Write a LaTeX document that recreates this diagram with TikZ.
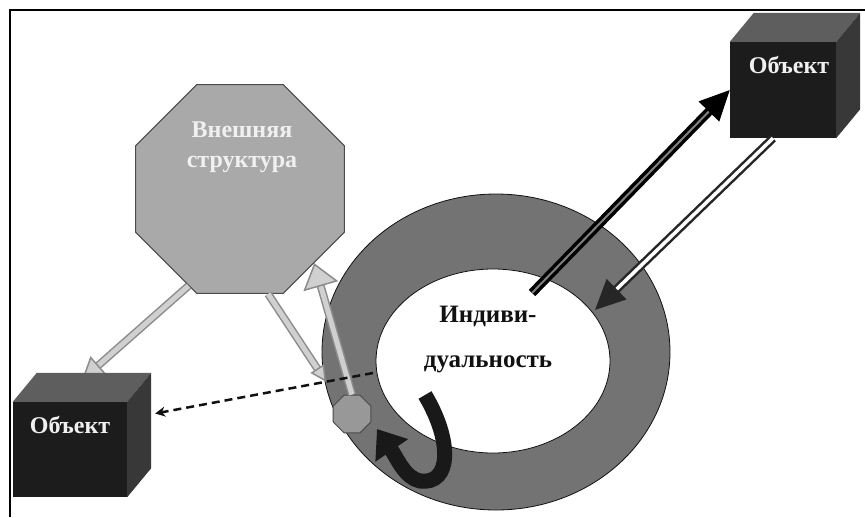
\documentclass[tikz,border=0pt]{standalone}
\usepackage{fontspec}
\setmainfont{Liberation Serif}
\usepackage{tikz}
\usetikzlibrary{positioning,arrows.meta,shapes.geometric,calc}
\definecolor{cInk}{HTML}{111111}
\definecolor{cCube}{HTML}{1C1C1C}
\definecolor{cCubeTop}{HTML}{5E5E5E}
\definecolor{cCubeSide}{HTML}{383838}
\definecolor{cRing}{HTML}{737373}
\definecolor{cOct}{HTML}{A9A9A9}
\definecolor{cOctEdge}{HTML}{4A4A4A}
\definecolor{cLight}{HTML}{F0F0F0}
\definecolor{cGreyL}{HTML}{D0D0D0}
\definecolor{cGreyD}{HTML}{8C8C8C}
\newcommand{\cubefaces}[1]{%
  \fill[cCubeTop] (#1.north west) -- ++(24,-29) -- ([shift={(24,-29)}]#1.north east) -- (#1.north east) -- cycle;
  \fill[cCubeSide] (#1.north east) -- ++(24,-29) -- ([shift={(24,-29)}]#1.south east) -- (#1.south east) -- cycle;}
\tikzset{
  cube/.style={fill=cCube, inner sep=0pt},
  lbl/.style={text=cLight, inner sep=0pt, font=\fontsize{24}{26}\bfseries\selectfont},
  octo/.style={regular polygon, regular polygon sides=8, draw=cOctEdge, line width=1pt,
               fill=cOct, inner sep=0pt},
  ell/.style={ellipse, draw=cInk, line width=0.8pt, inner sep=0pt},
  arDark/.style={draw=black, line width=3.5pt, double=gray, double distance=2pt,
                 -{Triangle[length=30pt,width=28pt]}},
  arDbl/.style={draw=black!85, line width=2.5pt, double=white, double distance=3.5pt,
                -{Triangle[length=30pt,width=28pt]}},
  arGrey/.style={draw=cGreyD, line width=1.5pt, double=cGreyL, double distance=5pt,
                 -{Triangle[length=22pt,width=24pt,fill=cGreyL]}},
  arDash/.style={draw=cInk, line width=2.5pt, dash pattern=on 8pt off 5pt,
                 -{Stealth[length=10pt,width=10pt]}},
  arBend/.style={draw=black!90, line width=15pt, -{Triangle[length=26pt,width=38pt]}}
}
\begin{document}
\begin{tikzpicture}[x=1pt,y=-1pt]
\useasboundingbox (0,0) rectangle (865,517);
\draw[line width=2pt] (10,517) -- (10,10) -- (865,10);
% ring
\node[ell, fill=cRing, minimum width=348pt, minimum height=316pt] (ringO) at (496,352) {};
\node[ell, fill=white, minimum width=234pt, minimum height=184pt] (inner) at (493,361) {};
\node[align=center, inner sep=0pt, text=cInk, font=\fontsize{25}{45}\bfseries\selectfont] (indiv) at (488,340) {Индиви-\\дуальность};
% octagons
\node[octo, minimum size=226pt] (ext) at (240,189) {};
\node[align=center, inner sep=0pt, text=cLight, font=\fontsize{24}{30}\bfseries\selectfont] (exttxt) at (242,147) {Внешняя\\структура};
\node[octo, fill=cOct!90!black, minimum size=41pt] (soct) at (352,414) {};
% cubes
\node[cube, minimum width=114pt, minimum height=95pt] (lcube) at (70,449.5) {};
\node[cube, minimum width=106pt, minimum height=96pt] (rcube) at (783,90) {};
\coordinate (a1s) at (532,293);
\coordinate (a2e) at (595,310);
\coordinate (dsh) at (373,373);
\coordinate (bnd) at (425,395);
\coordinate (bndE) at (377,429);
% arrows
\draw[arGrey] (ext.242) -- ([shift={(12,-22)}]lcube.north);
\draw[arGrey, -{Triangle[length=16pt,width=16pt,fill=cGreyL]}] (ext.285) -- ([shift={(256,-20)}]lcube.north);
\draw[arGrey, -{Triangle[length=24pt,width=36pt,fill=cGreyL]}] (soct.north) -- (ext.315);
\draw[arDash] (dsh) -- ([shift={(28,-36)}]lcube.east);
\draw[arBend] (bnd) .. controls (452,440) and (452,485) .. (420,481) .. controls (405,478) and (397,458) .. (bndE);
\draw[arDark] (a1s) -- (rcube.west);
\draw[arDbl] ([xshift=-10pt]rcube.south) -- (a2e);
\cubefaces{lcube}
\cubefaces{rcube}
\node[lbl, below=14pt of lcube.north] (ltxt) {Объект};
\node[lbl, below=14pt of rcube.north, xshift=6pt] (rtxt) {Объект};
\end{tikzpicture}
\end{document}
